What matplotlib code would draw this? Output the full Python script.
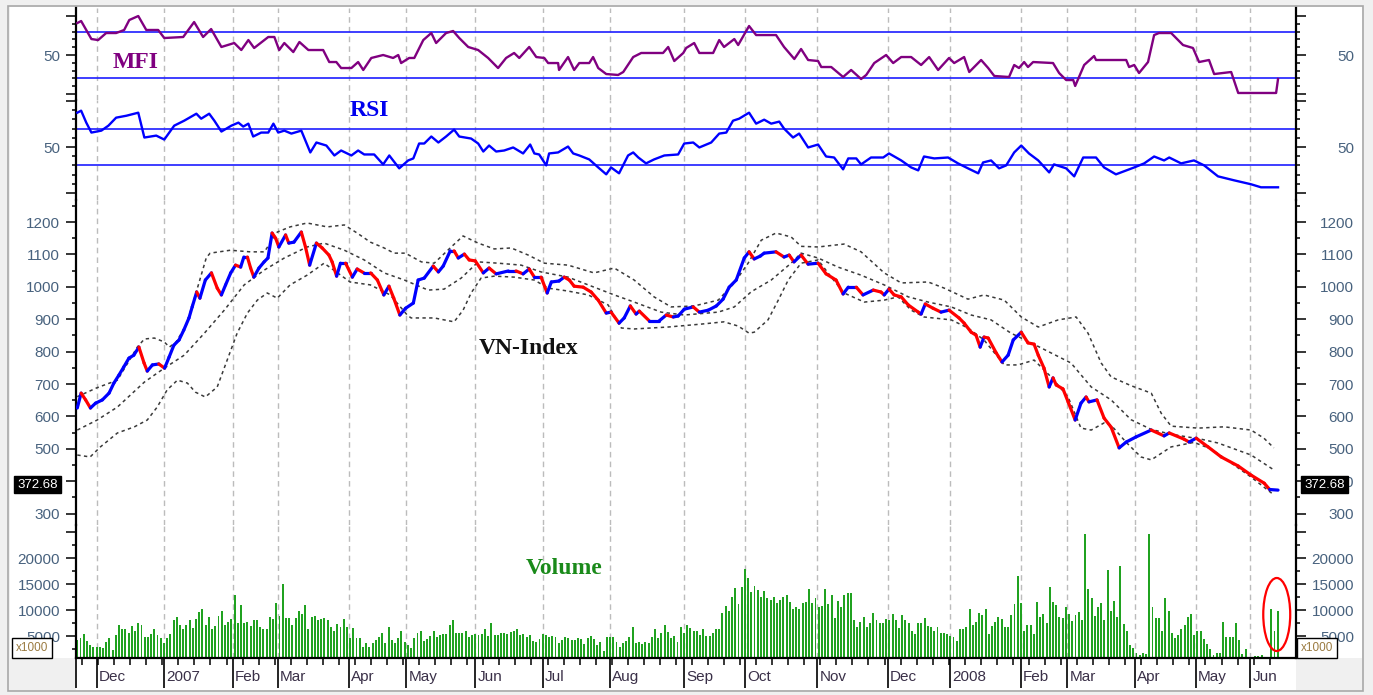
import numpy as np
import matplotlib
matplotlib.use("Agg")
import matplotlib.pyplot as plt
import matplotlib.transforms as mtransforms
from matplotlib.collections import LineCollection
from matplotlib.patches import Ellipse, Rectangle
from matplotlib.ticker import FixedLocator

plt.rcParams['font.family'] = ['Liberation Sans', 'DejaVu Sans']

W, H = 1373, 695
XLIM = (-0.4, 379.7)   # x unit = one trading session

# month starts (session number) and their labels
month_pos = [6, 27, 48.5, 62.5, 84.5, 102.5, 124, 145, 166, 189, 208, 230.5,
             252.5, 272, 294, 308.5, 329.5, 348.5, 365.5]
month_lbl = ["Dec", "2007", "Feb", "Mar", "Apr", "May", "Jun", "Jul", "Aug", "Sep",
             "Oct", "Nov", "Dec", "2008", "Feb", "Mar", "Apr", "May", "Jun"]

# VN-Index close (session, value)
price_t = [0, 1.2, 2.6, 4.1, 5.7, 7.8, 9.9, 11.4, 13.0, 14.5, 16.1, 17.6, 19.2, 20.8, 21.8,
           23.4, 25.4, 27.2, 28.6, 30.1, 31.7, 33.2, 34.8, 35.8, 37.2, 38.2, 39.9, 41.8, 43.6,
           44.9, 46.2, 47.8, 49.3, 50.9, 51.9, 53.0, 54.0, 55.0, 56.6, 58.2, 59.4, 60.7, 61.8,
           62.8, 64.9, 65.9, 67.5, 69.8, 71.1, 72.4, 74.5, 76.3, 78.4, 79.4, 80.8, 82.0, 83.6,
           85.7, 87.2, 89.3, 91.4, 93.5, 95.5, 97.1, 98.6, 100.5,
           102.3, 104.7, 106.2, 108.1, 110.9, 112.5, 114.0, 116.2, 117.4, 118.7, 120.6, 122.1,
           124.0, 126.5, 128.3, 130.5, 134.3, 136.7, 138.9, 140.8, 142.4, 144.5, 146.4, 147.7,
           150.1, 151.7, 153.3, 154.8, 157.6, 160.1, 162.3, 164.8, 166.3, 168.8, 170.4, 172.3,
           174.1, 175.1, 178.2, 181.3, 183.5, 185.7, 187.2, 189.1, 191.9, 193.8, 196.6, 199.1,
           201.2, 203.1, 205.3, 207.8, 209.3, 210.9, 212.8,
           214.0, 217.7, 220.2, 221.8, 223.3, 225.5, 227.7, 230.8, 233.3, 236.4, 238.6, 240.2,
           242.7, 244.8, 248.0, 250.4, 251.4, 252.9, 254.5, 256.7, 258.9, 262.0, 262.9, 264.2,
           266.6, 269.1, 271.6, 274.7, 276.3, 278.5, 280.0, 281.3, 282.5, 283.8, 286.3, 288.1,
           290.0, 291.6, 294.1, 296.2, 298.1, 299.4, 301.2, 302.8, 304.0, 305.0, 307.1, 308.7,
           310.9, 312.7, 314.3, 315.2, 317.7, 319.9, 322.1,
           324.6, 326.8, 329.9, 334.6, 338.6, 340.2, 344.8, 346.4, 348.6, 352.3, 356.4, 361.7,
           365.7, 369.8, 371.5, 374.1]
price_v = [626, 672, 651, 626, 641, 651, 672, 703, 728, 753, 780, 789, 814, 765, 740,
           759, 762, 749, 783, 820, 836, 867, 904, 938, 984, 965, 1021, 1043, 996,
           975, 1006, 1043, 1067, 1061, 1092, 1092, 1058, 1030, 1058, 1077, 1089, 1166, 1150,
           1123, 1160, 1135, 1138, 1169, 1123, 1067, 1135, 1120, 1098, 1077, 1033, 1073, 1073,
           1030, 1055, 1043, 1043, 1021, 975, 1002, 965, 913,
           934, 950, 1021, 1027, 1064, 1046, 1064, 1111, 1111, 1089, 1101, 1083,
           1080, 1043, 1058, 1040, 1049, 1049, 1040, 1055, 1030, 1030, 981, 1015,
           1018, 1030, 1021, 1002, 999, 984, 959, 919, 922, 888, 904, 941,
           916, 925, 895, 895, 913, 907, 910, 931, 938, 922, 928, 941,
           962, 999, 1021, 1089, 1108, 1086, 1095,
           1104, 1108, 1092, 1098, 1077, 1098, 1070, 1073, 1040, 1021, 978, 999,
           999, 975, 990, 984, 975, 993, 975, 969, 944, 922, 916, 947,
           934, 922, 928, 904, 888, 860, 851, 814, 845, 842, 796, 768,
           789, 836, 860, 827, 823, 789, 749, 691, 719, 697, 685, 645,
           589, 641, 660, 645, 651, 595, 567,
           503, 521, 537, 558, 540, 549, 530, 521, 533, 506, 475, 447,
           419, 394, 374.5, 372.68]

# Bollinger bands
up_t = [0, 6, 12.5, 18.7, 20.9, 24, 27.1, 28.7, 30.8, 33.9, 37.1, 40.2, 41.4, 47.7, 53.9,
        58.3, 62.3, 66.3, 71.6, 77.9, 83.2, 87.2, 91.3, 95.6, 98.7, 102.2, 107.2, 111.2,
        116.5, 120.2, 124.9, 129.9, 135.2, 140.5, 145.5, 152.9, 161, 167.3, 173.5, 179.7,
        185, 192.2, 199.7, 204.7, 209, 213.1, 217.7, 222.4, 225.5, 230.8, 238.9, 244.2,
        251.4, 256.7, 265.1, 270.1, 277.5, 282.5, 288.8, 294.1, 299.4, 305.6, 311.2, 314.9,
        319, 322.1, 328.3, 334.6, 337.7, 340.8, 349.2, 357.3, 365.7, 369.7, 372.8]
up_v = [661, 688, 712, 814, 839, 842, 830, 814, 830, 880, 985, 1090, 1104, 1113, 1108,
        1108, 1169, 1185, 1197, 1185, 1191, 1166, 1138, 1120, 1104, 1104, 1077, 1073,
        1123, 1157, 1135, 1117, 1120, 1098, 1073, 1067, 1043, 1058, 1021, 969,
        938, 941, 959, 1012, 1073, 1144, 1166, 1154, 1125, 1123, 1132, 1108,
        1043, 1012, 1015, 996, 962, 975, 959, 907, 876, 898, 907, 857,
        765, 722, 695, 672, 610, 570, 564, 568, 558, 533, 503]
mid_t = [0, 6.2, 12.5, 20.9, 27.1, 33.3, 39.6, 45.8, 52, 58.3, 64.5, 71.6, 76.9, 83.2, 89.4,
         95.6, 101.9, 109.3, 114.3, 119.6, 124.9, 131.1, 138.3, 144.5, 152.9, 161, 167.3,
         173.5, 181.9, 189.1, 199.7, 204.7, 210, 216.2, 222.4, 225.5, 230.8, 237, 244.2,
         251.4, 258.9, 265.1, 272.3, 278.5, 284.7, 290.9, 297.2, 303.4, 309.6, 315.9, 322.1,
         328.3, 334.6, 340.8, 350.1, 355.4, 365.7, 372.8]
mid_v = [558, 589, 629, 706, 749, 789, 857, 928, 1006, 1052, 1089, 1123, 1135, 1113, 1083,
         1043, 1021, 990, 993, 1027, 1077, 1073, 1067, 1046, 1030, 999, 975,
         953, 922, 913, 922, 938, 985, 1021, 1073, 1104, 1089, 1061, 1036,
         1006, 969, 953, 938, 913, 898, 857, 827, 796, 765, 691, 651,
         590, 560, 545, 530, 518, 481, 435]
lo_t = [0, 4, 7.2, 12.5, 17.8, 21.8, 24.9, 28, 31.2, 34.3, 36.8, 39.9, 43.6, 46.7, 49.8, 53,
        56.1, 59.2, 62.3, 66.3, 71.6, 76.9, 85, 91.3, 97.5, 102.8, 104, 111.2, 117.4, 120.2,
        122.7, 125.8, 129.9, 136.1, 142.4, 146.7, 152.9, 159.2, 165.4, 169.5, 173.5, 184.1,
        194.4, 201.5, 205.9, 209.3, 210.9, 215.2, 218.4, 221.5, 225.5, 230.8, 234.9, 238.9,
        245.2, 251.4, 255.7, 259.8, 263.8, 272.3, 277.5, 282.5, 288.8, 293.1, 298.1, 303.4,
        308.7, 312.7, 315.9, 319.9, 322.1, 326.8, 331.4, 334.6, 340.8, 347.9, 353.2, 360.4,
        365.7, 372.8]
lo_v = [481, 475, 506, 549, 568, 589, 629, 682, 712, 703, 675, 660, 691, 774, 857, 919,
        959, 981, 965, 1006, 1036, 1073, 1015, 1006, 975, 913, 904, 904, 892, 928,
        981, 1027, 1033, 1030, 1021, 996, 987, 975, 944, 873, 870, 876,
        885, 892, 879, 857, 860, 898, 959, 1021, 1073, 1083, 1030, 981,
        953, 959, 969, 928, 907, 898, 873, 836, 759, 759, 774, 722,
        660, 564, 558, 580, 573, 520, 475, 466, 506, 520, 500, 450,
        413, 358]

# MFI
mfi_t = [0, 1.2, 2.8, 4.4, 6.5, 9.0, 12.1, 14.6, 16.2, 19.0,
         21.5, 25.2, 27.1, 33.0, 36.4, 39.2, 41.7, 44.9, 48.9, 51.1,
         53.3, 55.1, 59.5, 61.4, 62.9, 64.5, 67.3, 69.2, 72.0, 76.6,
         78.5, 80.7, 82.2, 85.4, 87.5, 89.1, 91.6, 95.3, 98.4, 100.0,
         100.9, 103.4, 105.0, 107.8, 110.3, 111.8, 114.9, 117.1, 119.0, 121.8,
         124.9, 128.0, 131.1, 133.6, 136.1, 137.7, 140.8, 143.0, 145.5, 146.7,
         149.8, 150.1, 152.9, 154.8, 156.4, 159.5, 160.7, 162.3, 164.8, 168.5,
         170.1, 173.2, 175.7, 182.5, 184.1, 186.0, 188.8, 189.7, 192.2, 193.8,
         198.1, 200.0, 201.5, 204.7, 205.9, 209.3, 211.5, 217.7, 220.2, 223.4,
         225.5, 227.7, 230.8, 231.8, 234.9, 238.6, 241.1, 244.2, 245.8, 248.3,
         252.0, 254.2, 256.7, 259.8, 262.9, 265.4, 268.2, 271.6, 273.2, 276.3,
         277.9, 281.6, 283.8, 285.7, 290.3, 291.9, 293.4, 295.0, 296.2, 297.8,
         304.0, 305.9, 308.1, 310.3, 310.9, 313.7, 316.8, 317.4, 326.8, 327.7,
         329.3, 330.8, 333.6, 335.5, 337.0, 340.8, 344.5, 347.6, 349.5, 352.6,
         354.2, 359.5, 361.7, 373.5, 374.1]
mfi_v = [91.0, 93.6, 82.1, 70.5, 69.2, 78.2, 78.2, 82.1, 94.9, 100,
         82.1, 82.1, 71.8, 73.1, 92.3, 73.1, 83.3, 60.3, 65.4, 56.4,
         69.2, 59.0, 73.1, 73.1, 56.4, 65.4, 53.8, 66.7, 56.4, 56.4,
         41.0, 41.0, 33.3, 33.3, 41.0, 30.8, 46.2, 50.0, 46.2, 50.0,
         39.7, 46.2, 46.2, 69.2, 78.2, 65.4, 78.2, 80.8, 71.8, 60.3,
         56.4, 46.2, 33.3, 46.2, 52.6, 46.2, 60.3, 47.4, 46.2, 39.7,
         39.7, 30.8, 47.4, 30.8, 39.7, 39.7, 47.4, 33.3, 25.6, 24.4,
         28.2, 47.4, 52.6, 52.6, 60.3, 42.3, 52.6, 59.0, 65.4, 52.6,
         52.6, 69.2, 60.3, 70.5, 62.8, 87.2, 75.6, 75.6, 60.3, 44.9,
         57.7, 43.6, 42.3, 34.6, 34.6, 21.8, 30.8, 19.2, 24.4, 39.7,
         50.0, 39.7, 47.4, 47.4, 37.2, 47.4, 30.8, 46.2, 39.7, 47.4,
         28.2, 43.6, 33.3, 23.1, 21.8, 37.2, 33.3, 41.0, 34.6, 41.0,
         39.7, 26.9, 17.9, 17.9, 10.3, 37.2, 48.7, 43.6, 43.6, 34.6,
         37.2, 26.9, 41.0, 75.6, 78.2, 78.2, 62.8, 59.0, 41.0, 43.6,
         25.6, 28.2, 1.3, 1.3, 19.2]

# RSI
rsi_t = [0, 1.2, 2.8, 4.4, 7.5, 9.7, 12.1, 15.3, 19.0, 20.9,
         24.6, 27.1, 30.2, 33.3, 37.1, 38.6, 41.1, 42.7, 44.9, 48.0,
         50.2, 51.7, 53.3, 54.8, 57.3, 59.5, 61.1, 62.6, 64.5, 66.7,
         69.8, 72.6, 74.5, 77.6, 80.1, 82.2, 85.4, 87.5, 89.4, 92.5,
         95.3, 97.2, 100.3, 103.1, 104.7, 106.5, 108.1, 110.3, 112.5, 114.9,
         117.4, 119.0, 122.7, 124.9, 126.5, 128.3, 130.5, 133.0, 135.8, 137.4,
         138.9, 141.1, 142.4, 143.9, 146.1, 147.0, 149.8, 152.9, 154.5, 156.4,
         159.5, 162.3, 164.8, 166.3, 168.8, 171.6, 173.2, 174.8, 177.2, 179.7,
         182.9, 187.2, 189.1, 191.9, 193.8, 197.5, 200.0, 202.2, 204.3, 206.2,
         209.3, 211.5, 214.0, 216.2, 218.7, 220.2, 223.0, 224.9, 227.7, 230.8,
         233.3, 235.8, 238.6, 240.2, 242.7, 244.2, 247.3, 251.1, 252.9, 256.7,
         259.8, 262.0, 263.8, 267.0, 271.3, 274.4, 277.5, 280.7, 282.2, 284.7,
         287.2, 289.4, 291.9, 294.1, 296.5, 299.4, 302.8, 304.3, 308.1, 310.6,
         313.4, 317.4, 319.9, 323.6, 329.3, 332.4, 335.5, 338.6, 340.2, 343.9,
         347.9, 351.1, 355.4, 360.4, 365.7, 368.8, 374.1]
rsi_v = [87.3, 89.5, 76.5, 65.7, 67.8, 73.2, 81.9, 84.0, 87.3, 60.3,
         62.4, 58.1, 73.2, 78.6, 86.2, 80.8, 86.2, 78.6, 66.8, 73.2,
         76.5, 72.2, 75.4, 61.4, 65.7, 65.7, 75.4, 65.7, 67.8, 64.6,
         67.8, 44.1, 54.9, 51.6, 40.8, 46.2, 40.8, 46.2, 41.9, 41.9,
         31.1, 40.8, 26.8, 35.4, 37.6, 53.8, 53.8, 61.4, 54.9, 61.4,
         68.9, 61.4, 59.2, 53.8, 45.1, 51.6, 45.1, 46.2, 49.5, 46.2,
         43.0, 52.7, 43.0, 41.9, 30.0, 43.0, 44.1, 50.5, 43.0, 40.8,
         36.5, 27.8, 20.3, 27.8, 21.4, 40.8, 44.1, 38.6, 32.2, 36.5,
         40.8, 41.9, 53.8, 54.9, 49.5, 54.9, 64.6, 65.7, 78.6, 80.8,
         87.3, 75.4, 79.7, 75.4, 77.6, 70.0, 60.3, 64.6, 49.5, 52.7,
         39.7, 38.6, 25.7, 37.6, 37.6, 31.1, 38.6, 38.6, 43.0, 35.4,
         27.8, 24.6, 39.7, 37.6, 38.6, 32.2, 26.8, 21.4, 33.2, 35.4,
         26.8, 30.0, 44.1, 51.6, 43.0, 35.4, 22.4, 31.1, 26.8, 18.1,
         38.6, 38.6, 27.8, 20.3, 27.8, 32.2, 39.7, 35.4, 38.6, 32.2,
         35.4, 30.0, 18.1, 13.8, 9.5, 6.2, 6.2]

# daily volume (x1000), one value per session
volume = [
    4230, 4550, 5390, 4100, 3270, 2820,
    2820, 2950, 2630, 3910, 4550, 2310, 5190, 7120, 6280, 6280,
    5640, 6920, 5960, 7440, 7120, 4740, 4740, 5320, 6280, 5190, 4550, 3590,
    4550, 5390, 8080, 8720, 7120, 6280, 7120, 8080, 6480, 8330,
    9680, 10130, 7120, 8720, 6280, 6920, 8910, 9870, 7120, 7760, 8330,
    12880, 7440, 10960, 7560, 7760, 6920, 8080, 8080, 6800, 6280, 6280, 8590, 8330, 11410,
    8850, 15000, 8400, 8530, 7120, 8400, 9870, 9230, 10960, 6280,
    8590, 8850, 8080, 8210, 8400, 8080, 6800, 5960, 7310, 6800, 8330, 6800,
    4550, 6600, 4550, 4550, 2950, 3590, 2820, 3590, 4230, 4870,
    5640, 3590, 6670, 4230, 3590, 4550,
    5960, 3910, 3270, 2630, 4550, 5510, 6030, 4100, 4360, 5000,
    5960, 4870, 5190, 5320, 5320, 7120, 8080, 5640, 5640, 5640,
    5960, 4870, 5190, 5320, 5190, 5380, 6280, 5000, 7440, 5190,
    5190, 5510, 5640, 5380, 5830, 5960, 6280, 5190, 5380, 4870,
    5190, 4100, 3910, 4360, 5380, 5190, 4740, 5000, 4740, 3590,
    4230, 4740, 4550, 4230, 4230, 4680, 4360, 3460, 4550, 5000,
    4360, 3270, 3910, 2120, 4740, 4740, 4740, 3910, 2950, 3590,
    4100, 4740, 6800, 3590, 3910, 3460, 3910, 3720, 4870, 6280,
    4550, 5510, 7120, 5830, 4550, 5000, 3910, 6800, 5640, 7120,
    6480, 5960, 6030, 5190, 6280, 5000, 5000, 5510, 6280, 6280,
    9490, 10770, 9870, 12440, 14170, 11150, 14360, 17820, 16090, 13530,
    14620, 13850, 12560, 13720, 12240, 11920, 12560, 11410, 11920, 12560,
    12820, 11600, 10130, 10510, 10130, 11410, 11600, 14040, 11280, 12240,
    10510, 10770, 14040, 11150, 12880, 8400, 11790, 10510, 12880, 13200,
    13200, 8080, 6670, 7760, 8590, 6670, 7440, 9490, 8080, 7440,
    7440, 8210, 8080, 9170, 8080, 6480,
    9040, 8080, 7440, 6030, 5390, 7440, 7440, 8400, 6920, 6670,
    6030, 6670, 5640, 5640, 5390, 5000, 4740, 4100, 6280, 6280,
    6670, 10130, 7120, 7760, 9490, 9040, 10130, 5390, 6920, 7760,
    8590, 8210, 6670, 6670, 9040, 11150, 16540, 11410, 6030, 7120,
    7120, 5390, 11600, 8720, 9230, 7440, 14360, 11600, 10960, 8590,
    8400, 10510, 9230, 7950, 9040, 9680, 8080, 24610, 13970, 12240,
    8850, 10510, 11410, 8080, 17690, 9870, 11790, 8590, 18460, 7310,
    6030, 3270, 2630, 1640, 1350, 1780, 1540, 24610, 10510, 8400,
    8400, 6030, 12240, 9870, 5640, 4550, 5190, 6280, 7120, 8590,
    9230, 5190, 6030, 6030, 4360, 3460, 2440, 1350, 1780, 1770,
    7760, 4740, 4740, 4740, 7440, 4230, 1540, 2440, 900, 900,
    1100, 1100, 1300, 900, 900, 10130, 5960, 9870]

last_close = price_v[-1]

LABEL_COL = '#48627e'
SERIF = ['Liberation Serif', 'DejaVu Serif']


def box(y0, y1, x0=76, x1=1296):
    return [x0 / W, 1 - y1 / H, (x1 - x0) / W, (y1 - y0) / H]


fig = plt.figure(figsize=(W / 100, H / 100), dpi=100, facecolor='#f0f0f0')
fig.patches.append(Rectangle((10 / W, 1 - 658 / H), 1352 / W, 651 / H, transform=fig.transFigure,
                             fc='white', ec='none', zorder=-10))
fig.patches.append(Rectangle((76 / W, 1 - 690 / H), 1220 / W, 33 / H, transform=fig.transFigure,
                             fc='white', ec='none', zorder=-10))
fig.patches.append(Rectangle((8 / W, 1 - 691 / H), 1355 / W, 685 / H, transform=fig.transFigure,
                             fc='none', ec='#a8a8a8', lw=1.2, zorder=-9))


def make_panel(y0, y1, ylim, majors, minors, labels, right_labels=None):
    ax = fig.add_axes(box(y0, y1))
    ax.set_xlim(XLIM)
    ax.set_ylim(ylim)
    ax.patch.set_visible(False)
    ax.spines['top'].set_visible(False)
    ax.spines['bottom'].set_visible(False)
    ax.spines['left'].set_linewidth(1.6)
    ax.spines['right'].set_linewidth(1.6)
    ax.tick_params(axis='x', which='both', bottom=False, top=False, labelbottom=False)
    for m in month_pos:
        ax.axvline(m, color='#bcbcbc', lw=1.0, ls=(0, (4, 3)), zorder=0.5)
    tw = ax.twinx()
    tw.set_ylim(ylim)
    for s in tw.spines.values():
        s.set_visible(False)
    for a, pad, lbls in ((ax, 4.3, labels), (tw, 34.6, right_labels or labels)):
        a.yaxis.set_major_locator(FixedLocator(majors))
        a.yaxis.set_minor_locator(FixedLocator(minors))
        a.set_yticklabels(lbls)
        a.tick_params(axis='y', which='major', direction='out', length=7.2, width=1.1,
                      pad=pad, labelsize=11, labelcolor=LABEL_COL)
        a.tick_params(axis='y', which='minor', direction='out', length=3.2, width=1.1)
    for t in tw.yaxis.get_major_ticks():
        t.label2.set_horizontalalignment('right')
    return ax, tw


ax_mfi, tw_mfi = make_panel(8, 100, (-7.7, 110.3), [0, 50, 100],
                            [10, 20, 30, 40, 60, 70, 80, 90], ['', '50', ''])
ax_rsi, tw_rsi = make_panel(100, 200, (-7.6, 101.1), [0, 50, 100],
                            [10, 20, 30, 40, 60, 70, 80, 90], ['', '50', ''])
p_major = list(range(300, 1201, 100))
p_right = [str(v) for v in p_major]
# the last-price tag hides the 400 label on the left side
p_left = ['' if v == 400 else str(v) for v in p_major]
ax_px, tw_px = make_panel(200, 525, (265, 1268), p_major,
                          list(range(250, 1251, 100)), p_left, p_right)
ax_vol, tw_vol = make_panel(525, 658, (770, 26346), [5000, 10000, 15000, 20000, 25000],
                            [2500, 7500, 12500, 17500, 22500],
                            ['5000', '10000', '15000', '20000', ''])

# MFI panel
ax_mfi.axhline(80, color='#1e1eff', lw=1.2, zorder=1)
ax_mfi.axhline(20, color='#1e1eff', lw=1.2, zorder=1)
ax_mfi.plot(mfi_t, mfi_v, color='#800080', lw=1.7, zorder=3)

# RSI panel
ax_rsi.axhline(70, color='#1e1eff', lw=1.2, zorder=1)
ax_rsi.axhline(30, color='#1e1eff', lw=1.2, zorder=1)
ax_rsi.plot(rsi_t, rsi_v, color='#0000ff', lw=1.7, zorder=3)

# price panel
for bt, bv in ((up_t, up_v), (mid_t, mid_v), (lo_t, lo_v)):
    ax_px.plot(bt, bv, color='#3a3a3a', lw=1.1, dashes=(2.2, 2.2), zorder=2)
pts = np.column_stack([price_t, price_v])
segs = np.stack([pts[:-1], pts[1:]], axis=1)
seg_cols = ['#ff0000' if b < a - 2 else '#0000ff' for a, b in zip(price_v[:-1], price_v[1:])]
ax_px.add_collection(LineCollection(segs, colors=seg_cols, linewidths=2.3,
                                    capstyle='round', joinstyle='round', zorder=3))

for a, xf in ((ax_px, (37.5 - 76) / 1220), (tw_px, (1324.5 - 76) / 1220)):
    tr = mtransforms.blended_transform_factory(a.transAxes, a.transData)
    a.annotate(f'{last_close:.2f}', xy=(xf, last_close), xycoords=tr, xytext=(0, 4),
               textcoords='offset points', ha='center', va='center', fontsize=9.5,
               color='white', annotation_clip=False, zorder=6,
               bbox=dict(boxstyle='square,pad=0.22', fc='black', ec='black'))

# volume panel
ax_vol.bar(np.arange(len(volume)), volume, width=0.6, color='#20a220', linewidth=0, zorder=2)
ax_vol.spines['bottom'].set_visible(True)
ax_vol.spines['bottom'].set_linewidth(1.6)
ax_vol.set_xticks([XLIM[0]] + month_pos)
ax_vol.set_xticklabels([])
ax_vol.set_xticks(np.arange(1.5, 376, 5), minor=True)
ax_vol.tick_params(axis='x', which='major', bottom=True, direction='out', length=21.6, width=1.2)
ax_vol.tick_params(axis='x', which='minor', bottom=True, direction='out', length=5, width=1.1)
for m, lbl in zip(month_pos, month_lbl):
    ax_vol.annotate(lbl, xy=(m, 0), xycoords=('data', 'axes fraction'), xytext=(1.6, -13.7),
                    textcoords='offset points', ha='left', va='center', fontsize=11,
                    color='#3a3048', annotation_clip=False)
ax_vol.add_patch(Ellipse((373.7, 9135), width=8.4, height=14040, fill=False,
                         ec='#ff0000', lw=1.6, clip_on=False, zorder=5))

# panel titles
fig.text(136 / W, 1 - 62 / H, 'MFI', family=SERIF, weight='bold', fontsize=17,
         color='#800080', ha='center', va='center')
fig.text(369 / W, 1 - 111 / H, 'RSI', family=SERIF, weight='bold', fontsize=17,
         color='#0000ee', ha='center', va='center')
fig.text(529 / W, 1 - 348.5 / H, 'VN-Index', family=SERIF, weight='bold', fontsize=17,
         color='#111111', ha='center', va='center')
fig.text(564 / W, 1 - 568.5 / H, 'Volume', family=SERIF, weight='bold', fontsize=17,
         color='#1a8a1a', ha='center', va='center')

# volume multiplier boxes
for xc in (32, 1317):
    fig.text(xc / W, 1 - 648 / H, 'x1000', fontsize=8.5, color='#9a7a40', ha='center',
             va='center', bbox=dict(boxstyle='square,pad=0.3', fc='white', ec='black', lw=1))

fig.savefig('out.png', dpi=100, facecolor=fig.get_facecolor())
